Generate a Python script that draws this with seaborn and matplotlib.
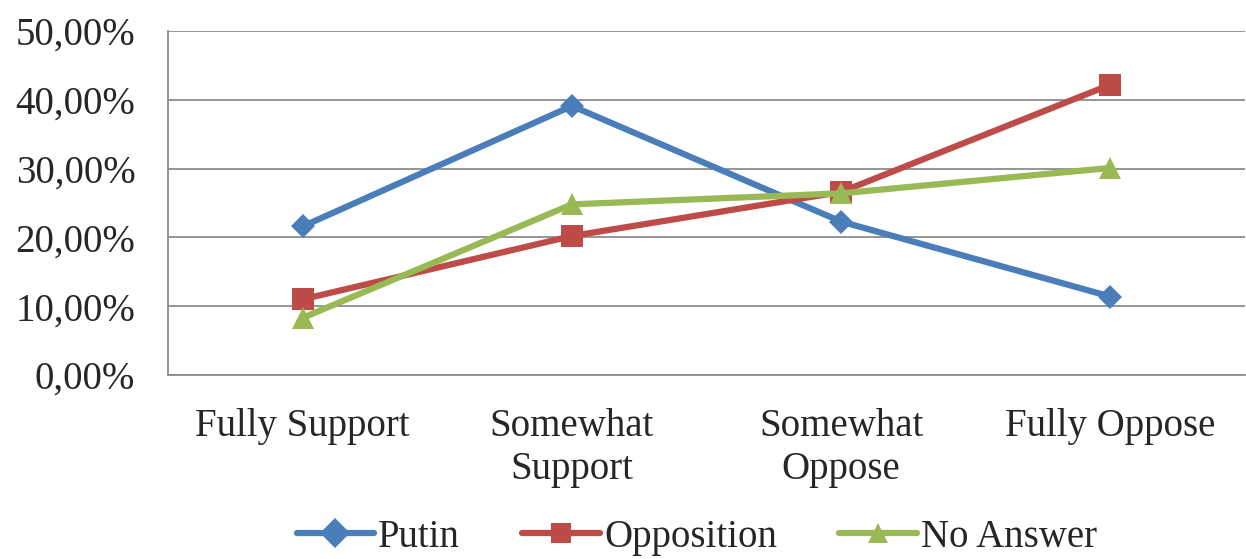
import matplotlib
matplotlib.use("Agg")
import matplotlib.pyplot as plt
import matplotlib.ticker as mticker
import pandas as pd
import seaborn as sns

# Values (percent)
categories = ["Fully Support", "Somewhat\nSupport", "Somewhat\nOppose", "Fully Oppose"]
series_names = ["Putin", "Opposition", "No Answer"]
putin = [21.6, 39.1, 22.3, 11.4]
opposition = [11.0, 20.2, 26.6, 42.2]
no_answer = [8.3, 24.8, 26.4, 30.1]
y_ticks = [0, 10, 20, 30, 40, 50]

colors = ["#4A7EBB", "#BE4B48", "#98B954"]
markers = ["D", "s", "^"]


def build_frame() -> pd.DataFrame:
    rows = []
    for name, vals in zip(series_names, [putin, opposition, no_answer]):
        for cat, v in zip(categories, vals):
            rows.append({"category": cat, "value": v, "series": name})
    return pd.DataFrame(rows)


def main():
    df = build_frame()
    sns.set_style("white")
    plt.rcParams["font.family"] = ["Liberation Serif", "DejaVu Serif"]
    fontsize = 28

    fig = plt.figure(figsize=(12.46, 5.59), dpi=100)
    ax = fig.add_axes([168 / 1246, 1 - 375 / 559, (1245 - 168) / 1246, (375 - 31) / 559])

    sns.lineplot(
        data=df, x="category", y="value", hue="series", style="series",
        hue_order=series_names, style_order=series_names,
        palette=colors, markers=markers, dashes=False,
        linewidth=4.5, markersize=16, markeredgewidth=0, sort=False, ax=ax,
    )
    # diamond a bit smaller than the others
    ax.lines[0].set_markersize(12)

    ax.set_xlim(-0.5, 3.5)
    ax.set_ylim(0, 50)
    ax.set_yticks(y_ticks)
    ax.yaxis.set_major_formatter(mticker.FuncFormatter(lambda v, p: f"{v:.2f}%".replace(".", ",")))
    ax.set_xticks(range(len(categories)))
    ax.set_xticklabels(categories, fontsize=fontsize, linespacing=1.2)
    ax.xaxis.set_minor_locator(mticker.FixedLocator([-0.5, 0.5, 1.5, 2.5, 3.5]))
    ax.tick_params(axis="x", which="major", length=0, pad=24)
    ax.tick_params(axis="x", which="minor", length=8.5, width=1.2, color="#8c8c8c", direction="out")
    ax.tick_params(axis="y", length=8.5, width=1.2, color="#8c8c8c", direction="out",
                   labelsize=fontsize, pad=15)
    ax.set_xlabel("")
    ax.set_ylabel("")

    ax.grid(axis="y", color="#8c8c8c", linewidth=1.3)
    ax.set_axisbelow(True)
    for side in ["top", "right"]:
        ax.spines[side].set_visible(False)
    for side in ["left", "bottom"]:
        ax.spines[side].set_color("#8c8c8c")
        ax.spines[side].set_linewidth(1.3)

    handles, labels = ax.get_legend_handles_labels()
    for h in handles:
        h.set_markersize(15)
    ax.legend(
        handles, labels, loc="center", bbox_to_anchor=(0.491, -0.472), ncol=3,
        frameon=False, fontsize=fontsize, handlelength=2.0, handletextpad=0.1, columnspacing=1.6,
    )

    fig.savefig("out.png", dpi=100)


if __name__ == "__main__":
    main()
